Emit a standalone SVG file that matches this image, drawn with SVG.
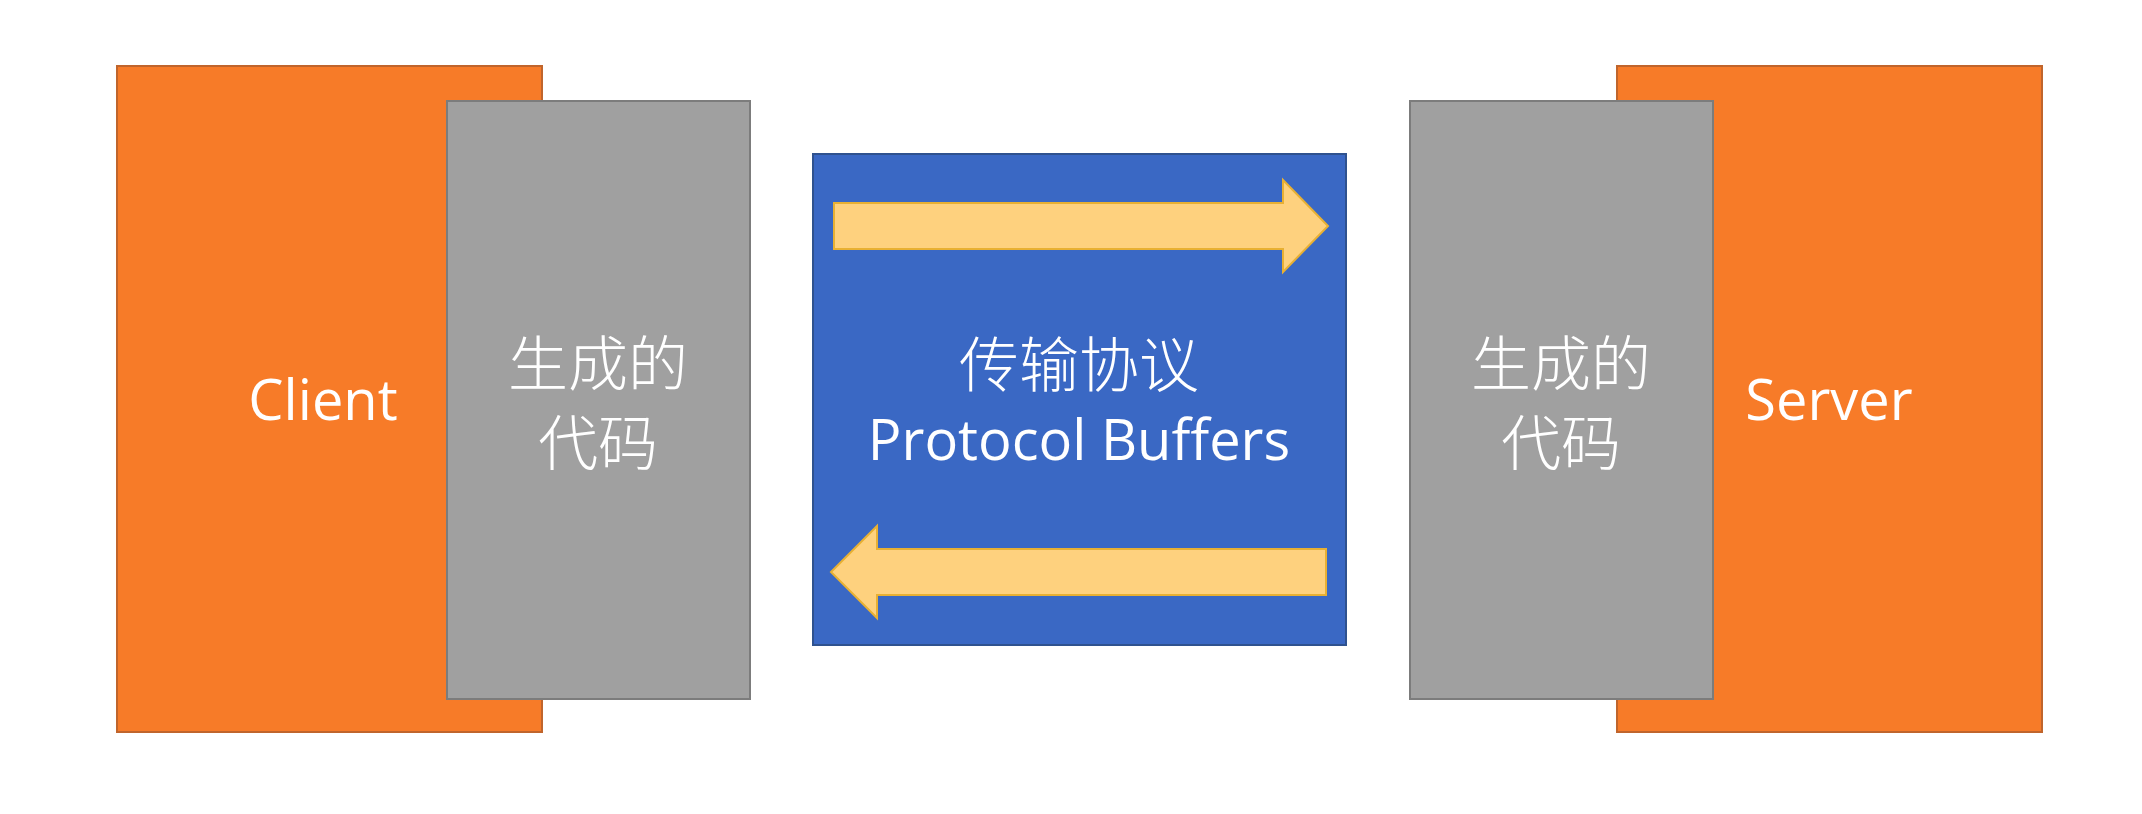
<svg xmlns="http://www.w3.org/2000/svg" width="2142" height="814" viewBox="0 0 2142 814">
<style>
.orange{fill:#F77B28;stroke:#C0652C;stroke-width:2}
.gray{fill:#A0A0A0;stroke:#7C7C7C;stroke-width:2}
.blue{fill:#3A68C4;stroke:#2F528F;stroke-width:2}
.arrow{fill:#FED17E;stroke:#E8B033;stroke-width:2}
.lat{font-family:"Open Sans","Noto Sans CJK SC",sans-serif;font-size:56px;fill:#FFFFFF;text-anchor:middle}
.cjk{font-family:"Noto Sans CJK SC",sans-serif;font-size:60px;font-weight:300;fill:#FFFFFF;text-anchor:middle}
</style>
<rect width="2142" height="814" fill="#FFFFFF"/>
<g id="client">
<rect class="orange" x="117" y="66" width="425" height="666"/>
<text class="lat" x="323" y="420">Client</text>
</g>
<g id="client-code">
<rect class="gray" x="447" y="101" width="303" height="598"/>
<text class="cjk" x="598" y="386">生成的</text>
<text class="cjk" x="598" y="465">代码</text>
</g>
<g id="protocol">
<rect class="blue" x="813" y="154" width="533" height="491"/>
<text class="cjk" x="1079" y="387">传输协议</text>
<text class="lat" x="1079" y="460">Protocol Buffers</text>
</g>
<g id="server">
<rect class="orange" x="1617" y="66" width="425" height="666"/>
<text class="lat" x="1829" y="420">Server</text>
</g>
<g id="server-code">
<rect class="gray" x="1410" y="101" width="303" height="598"/>
<text class="cjk" x="1561" y="386">生成的</text>
<text class="cjk" x="1561" y="465">代码</text>
</g>
<g id="connectors">
<polygon class="arrow" points="834,203 1283,203 1283,180 1328,226 1283,272 1283,249 834,249"/>
<polygon class="arrow" points="1326,549 877,549 877,526 831,572 877,618 877,595 1326,595"/>
</g>
</svg>
